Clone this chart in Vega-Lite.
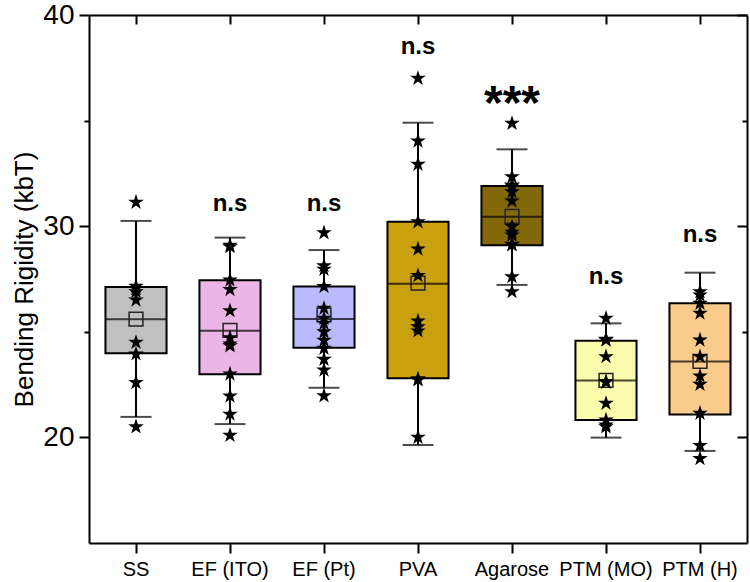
{
  "$schema": "https://vega.github.io/schema/vega-lite/v6.json",
  "width": 658,
  "height": 528,
  "autosize": {"type": "none"},
  "padding": {"left": 89, "top": 15, "right": 3, "bottom": 39},
  "background": "white",
  "config": {"view": {"stroke": null}, "font": "Liberation Sans"},
  "datasets": {
    "boxes": [
      {"group": "SS", "lower": 20.97, "q1": 23.98, "median": 25.59, "q3": 27.12, "upper": 30.25, "mean": 25.6},
      {"group": "EF (ITO)", "lower": 20.63, "q1": 22.99, "median": 25.05, "q3": 27.44, "upper": 29.46, "mean": 25.07},
      {"group": "EF (Pt)", "lower": 22.35, "q1": 24.25, "median": 25.61, "q3": 27.14, "upper": 28.87, "mean": 25.8},
      {"group": "PVA", "lower": 19.64, "q1": 22.8, "median": 27.28, "q3": 30.21, "upper": 34.9, "mean": 27.3},
      {"group": "Agarose", "lower": 27.22, "q1": 29.1, "median": 30.45, "q3": 31.9, "upper": 33.64, "mean": 30.47},
      {"group": "PTM (MO)", "lower": 19.99, "q1": 20.82, "median": 22.69, "q3": 24.58, "upper": 25.4, "mean": 22.7},
      {"group": "PTM (H)", "lower": 19.36, "q1": 21.09, "median": 23.59, "q3": 26.35, "upper": 27.8, "mean": 23.6}
    ],
    "stars": [
      {"group": "SS", "rigidity": 31.13}, {"group": "SS", "rigidity": 27.15}, {"group": "SS", "rigidity": 27.05},
      {"group": "SS", "rigidity": 26.9}, {"group": "SS", "rigidity": 26.5}, {"group": "SS", "rigidity": 24.5},
      {"group": "SS", "rigidity": 23.95}, {"group": "SS", "rigidity": 22.6}, {"group": "SS", "rigidity": 20.5},
      {"group": "EF (ITO)", "rigidity": 29.1}, {"group": "EF (ITO)", "rigidity": 29.03}, {"group": "EF (ITO)", "rigidity": 27.45},
      {"group": "EF (ITO)", "rigidity": 27.0}, {"group": "EF (ITO)", "rigidity": 26.0}, {"group": "EF (ITO)", "rigidity": 24.72},
      {"group": "EF (ITO)", "rigidity": 24.42}, {"group": "EF (ITO)", "rigidity": 24.34}, {"group": "EF (ITO)", "rigidity": 23.0},
      {"group": "EF (ITO)", "rigidity": 21.96}, {"group": "EF (ITO)", "rigidity": 21.1}, {"group": "EF (ITO)", "rigidity": 20.1},
      {"group": "EF (Pt)", "rigidity": 29.69}, {"group": "EF (Pt)", "rigidity": 28.13}, {"group": "EF (Pt)", "rigidity": 27.96},
      {"group": "EF (Pt)", "rigidity": 27.14}, {"group": "EF (Pt)", "rigidity": 26.11}, {"group": "EF (Pt)", "rigidity": 25.64},
      {"group": "EF (Pt)", "rigidity": 25.4}, {"group": "EF (Pt)", "rigidity": 25.0}, {"group": "EF (Pt)", "rigidity": 24.6},
      {"group": "EF (Pt)", "rigidity": 24.22}, {"group": "EF (Pt)", "rigidity": 23.7}, {"group": "EF (Pt)", "rigidity": 23.19},
      {"group": "EF (Pt)", "rigidity": 21.97},
      {"group": "PVA", "rigidity": 37.0}, {"group": "PVA", "rigidity": 34.03}, {"group": "PVA", "rigidity": 32.93},
      {"group": "PVA", "rigidity": 30.21}, {"group": "PVA", "rigidity": 28.92}, {"group": "PVA", "rigidity": 27.66},
      {"group": "PVA", "rigidity": 25.51}, {"group": "PVA", "rigidity": 25.24}, {"group": "PVA", "rigidity": 25.04},
      {"group": "PVA", "rigidity": 22.77}, {"group": "PVA", "rigidity": 22.72}, {"group": "PVA", "rigidity": 20.0},
      {"group": "Agarose", "rigidity": 34.87}, {"group": "Agarose", "rigidity": 32.34}, {"group": "Agarose", "rigidity": 31.95},
      {"group": "Agarose", "rigidity": 31.9}, {"group": "Agarose", "rigidity": 31.63}, {"group": "Agarose", "rigidity": 31.19},
      {"group": "Agarose", "rigidity": 29.98}, {"group": "Agarose", "rigidity": 29.71}, {"group": "Agarose", "rigidity": 29.58},
      {"group": "Agarose", "rigidity": 29.14}, {"group": "Agarose", "rigidity": 29.12}, {"group": "Agarose", "rigidity": 27.61},
      {"group": "Agarose", "rigidity": 26.9},
      {"group": "PTM (MO)", "rigidity": 25.64}, {"group": "PTM (MO)", "rigidity": 24.64}, {"group": "PTM (MO)", "rigidity": 24.61},
      {"group": "PTM (MO)", "rigidity": 23.82}, {"group": "PTM (MO)", "rigidity": 22.64}, {"group": "PTM (MO)", "rigidity": 22.61},
      {"group": "PTM (MO)", "rigidity": 21.61}, {"group": "PTM (MO)", "rigidity": 20.82}, {"group": "PTM (MO)", "rigidity": 20.59},
      {"group": "PTM (MO)", "rigidity": 20.5},
      {"group": "PTM (H)", "rigidity": 26.9}, {"group": "PTM (H)", "rigidity": 26.74}, {"group": "PTM (H)", "rigidity": 26.35},
      {"group": "PTM (H)", "rigidity": 25.88}, {"group": "PTM (H)", "rigidity": 24.61}, {"group": "PTM (H)", "rigidity": 23.82},
      {"group": "PTM (H)", "rigidity": 22.91}, {"group": "PTM (H)", "rigidity": 22.51}, {"group": "PTM (H)", "rigidity": 21.14},
      {"group": "PTM (H)", "rigidity": 19.61}, {"group": "PTM (H)", "rigidity": 19.0}
    ],
    "notes": [
      {"group": "EF (ITO)", "label": "n.s", "pos": 30.72},
      {"group": "EF (Pt)", "label": "n.s", "pos": 30.7},
      {"group": "PVA", "label": "n.s", "pos": 38.15},
      {"group": "Agarose", "label": "***", "pos": 35.08},
      {"group": "PTM (MO)", "label": "n.s", "pos": 27.26},
      {"group": "PTM (H)", "label": "n.s", "pos": 29.27}
    ]
  },
  "layer": [
    {
      "data": {"name": "boxes"},
      "mark": {"type": "rule", "stroke": "black", "strokeWidth": 2},
      "encoding": {
        "x": {
          "field": "group", "type": "nominal",
          "scale": {"type": "band", "domain": ["SS", "EF (ITO)", "EF (Pt)", "PVA", "Agarose", "PTM (MO)", "PTM (H)"], "paddingInner": 0, "paddingOuter": 0},
          "axis": {
            "orient": "bottom", "title": null, "labelAngle": 0, "labelFont": "Liberation Sans", "labelFontSize": 20,
            "labelColor": "black", "labelPadding": 6, "labelOverlap": false, "tickSize": 10, "tickWidth": 2,
            "tickColor": "black", "domainColor": "black", "domainWidth": 2, "grid": false
          }
        },
        "y": {
          "field": "lower", "type": "quantitative",
          "scale": {"domain": [15, 40], "nice": false, "zero": false},
          "axis": {
            "orient": "left", "values": [20, 25, 30, 35, 40],
            "labelExpr": "datum.value % 10 === 0 ? datum.label : ''",
            "labelFont": "Liberation Sans", "labelFontSize": 28, "labelColor": "black", "labelPadding": 5,
            "tickSize": {"condition": {"test": "datum.value % 10 === 0", "value": 10}, "value": 5},
            "tickWidth": 2, "tickColor": "black", "domainColor": "black", "domainWidth": 2, "grid": false,
            "title": "Bending Rigidity (kbT)", "titleFont": "Liberation Sans", "titleFontSize": 26,
            "titleFontWeight": "normal", "titleColor": "black", "titlePadding": 5
          }
        },
        "y2": {"field": "upper"}
      }
    },
    {
      "data": {"name": "boxes"},
      "mark": {"type": "tick", "color": "black", "size": 31, "thickness": 2},
      "encoding": {
        "x": {
          "field": "group", "type": "nominal", "scale": {"type": "band"},
          "axis": {"orient": "top", "title": null, "labels": false, "tickSize": -9, "tickWidth": 2, "tickColor": "black", "domainColor": "black", "domainWidth": 2, "grid": false}
        },
        "y": {
          "field": "lower", "type": "quantitative",
          "axis": {
            "orient": "right", "title": null, "labels": false, "values": [20, 25, 30, 35, 40],
            "tickSize": {"condition": {"test": "datum.value % 10 === 0", "value": -10}, "value": -5},
            "tickWidth": 2, "tickColor": "black", "domainColor": "black", "domainWidth": 2, "grid": false
          }
        }
      }
    },
    {
      "data": {"name": "boxes"},
      "mark": {"type": "tick", "color": "black", "size": 31, "thickness": 2},
      "encoding": {
        "x": {"field": "group", "type": "nominal", "scale": {"type": "band"}, "axis": null},
        "y": {"field": "upper", "type": "quantitative", "axis": null}
      }
    },
    {
      "data": {"name": "boxes"},
      "mark": {"type": "bar", "stroke": "black", "strokeWidth": 2, "width": {"band": 0.65}},
      "encoding": {
        "x": {"field": "group", "type": "nominal", "scale": {"type": "band"}, "axis": null},
        "y": {"field": "q1", "type": "quantitative", "axis": null},
        "y2": {"field": "q3"},
        "color": {
          "field": "group", "type": "nominal", "legend": null,
          "scale": {
            "domain": ["SS", "EF (ITO)", "EF (Pt)", "PVA", "Agarose", "PTM (MO)", "PTM (H)"],
            "range": ["#c0c0c0", "#ebb6e5", "#babafc", "#c9a00d", "#836809", "#fbfbae", "#f9cc8c"]
          }
        }
      }
    },
    {
      "data": {"name": "boxes"},
      "mark": {"type": "tick", "color": "black", "size": 61, "thickness": 2},
      "encoding": {
        "x": {"field": "group", "type": "nominal", "scale": {"type": "band"}, "axis": null},
        "y": {"field": "median", "type": "quantitative", "axis": null}
      }
    },
    {
      "data": {"name": "boxes"},
      "mark": {"type": "point", "shape": "square", "filled": false, "stroke": "#222222", "strokeWidth": 1.5, "size": 190, "opacity": 1},
      "encoding": {
        "x": {"field": "group", "type": "nominal", "scale": {"type": "band"}, "axis": null},
        "y": {"field": "mean", "type": "quantitative", "axis": null}
      }
    },
    {
      "data": {"name": "stars"},
      "mark": {
        "type": "point",
        "shape": "M0,-1L0.2245,-0.309L0.951,-0.309L0.363,0.118L0.588,0.809L0,0.382L-0.588,0.809L-0.363,0.118L-0.951,-0.309L-0.2245,-0.309Z",
        "filled": true, "color": "black", "size": 270, "opacity": 1
      },
      "encoding": {
        "x": {"field": "group", "type": "nominal", "scale": {"type": "band"}, "axis": null},
        "y": {"field": "rigidity", "type": "quantitative", "axis": null}
      }
    },
    {
      "data": {"name": "notes"},
      "transform": [{"filter": "datum.label === 'n.s'"}],
      "mark": {"type": "text", "font": "Liberation Sans", "fontWeight": "bold", "fontSize": 24, "color": "black", "baseline": "alphabetic", "align": "center"},
      "encoding": {
        "x": {"field": "group", "type": "nominal", "scale": {"type": "band"}, "axis": null},
        "y": {"field": "pos", "type": "quantitative", "axis": null},
        "text": {"field": "label"}
      }
    },
    {
      "data": {"name": "notes"},
      "transform": [{"filter": "datum.label === '***'"}],
      "mark": {"type": "text", "font": "Liberation Sans", "fontWeight": "bold", "fontSize": 48, "color": "black", "baseline": "alphabetic", "align": "center"},
      "encoding": {
        "x": {"field": "group", "type": "nominal", "scale": {"type": "band"}, "axis": null},
        "y": {"field": "pos", "type": "quantitative", "axis": null},
        "text": {"field": "label"}
      }
    }
  ],
  "resolve": {"axis": {"x": "independent", "y": "independent"}}
}
